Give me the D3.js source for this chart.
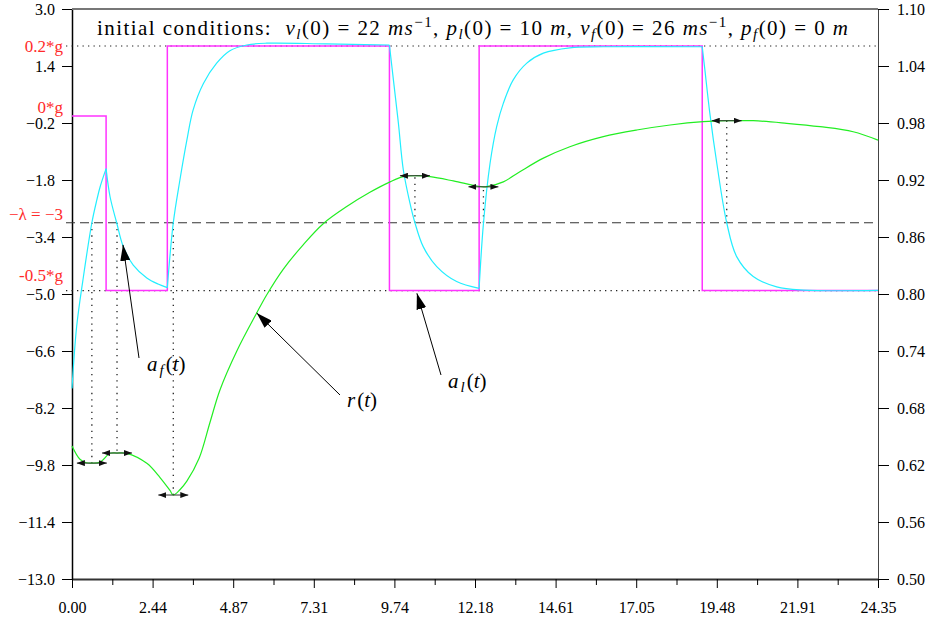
<!DOCTYPE html>
<html><head><meta charset="utf-8">
<script src="https://cdn.jsdelivr.net/npm/d3@7"></script>
<style>body{margin:0;background:#fff}</style></head>
<body><svg id="c" width="935" height="624"></svg>
<script>
// ---------------- data ----------------
const xTickValues = [0, 2.435, 4.87, 7.305, 9.74, 12.175, 14.61, 17.045, 19.48, 21.915, 24.35];
const xTickLabels = ["0.00","2.44","4.87","7.31","9.74","12.18","14.61","17.05","19.48","21.91","24.35"];
const yLeftTicks = [3.0, 1.4, -0.2, -1.8, -3.4, -5.0, -6.6, -8.2, -9.8, -11.4, -13.0];
const yRightTicks = [1.10, 1.04, 0.98, 0.92, 0.86, 0.80, 0.74, 0.68, 0.62, 0.56, 0.50];

// leader acceleration a_l(t): piecewise constant
const leaderSwitchT = [0, 1.03, 2.88, 9.59, 12.30, 19.04, 24.35];
const leaderAccel   = [0, -4.905, 1.962, -4.905, 1.962, -4.905];

// follower acceleration a_f(t)
const followerT = [0.00,0.14,0.33,0.60,0.75,0.85,1.03,
  1.15,1.35,1.55,1.85,2.26,2.60,2.88,
  3.06,3.26,3.47,3.66,3.97,4.37,4.77,5.28,5.88,7.69,9.59,
  9.71,9.86,10.01,10.21,10.36,10.61,11.02,11.62,12.30,
  12.43,12.63,12.83,13.03,13.33,13.74,14.24,15.04,16.05,19.04,
  19.12,19.27,19.48,19.78,20.08,20.58,21.29,22.09,24.35];
const followerA = [-7.65,-5.92,-4.61,-3.00,-2.36,-1.99,-1.48,
  -2.27,-3.00,-3.67,-4.19,-4.55,-4.72,-4.82,
  -3.00,-1.80,-0.68,0.17,0.91,1.48,1.83,1.99,2.04,2.02,1.99,
  1.01,-0.20,-1.52,-2.45,-3.00,-3.67,-4.23,-4.65,-4.84,
  -3.02,-1.33,-0.30,0.35,1.01,1.48,1.76,1.91,1.94,1.94,
  1.29,0.07,-1.33,-3.00,-3.95,-4.51,-4.80,-4.89,-4.90];

// ratio r(t) (right axis)
const rangeT = [0.00,0.24,0.43,0.60,0.85,1.15,1.36,1.65,2.26,2.66,2.96,3.06,3.26,3.47,3.84,4.17,4.47,4.98,5.58,5.88,6.38,6.99,7.59,8.30,9.00,9.61,10.01,10.36,10.82,11.52,12.23,12.43,12.53,13.03,13.53,14.24,15.04,16.05,17.06,18.07,19.07,19.78,20.58,21.59,22.60,23.60,24.35];
const rangeR = [0.640,0.626,0.6224,0.622,0.623,0.6323,0.6326,0.6323,0.6218,0.6068,0.5932,0.5884,0.594,0.603,0.627,0.665,0.699,0.740,0.780,0.799,0.826,0.852,0.874,0.892,0.907,0.918,0.9235,0.9245,0.9235,0.919,0.9137,0.9128,0.913,0.918,0.9287,0.943,0.955,0.9656,0.9726,0.9779,0.9814,0.9824,0.9824,0.9797,0.9761,0.9708,0.962];

// instants where a_f crosses -lambda, and r at those instants
const extremaT = [0.60, 1.36, 3.06, 10.36, 12.43, 19.78];
const extremaR = [0.622, 0.6326, 0.5884, 0.9245, 0.9128, 0.9824];

const lambdaLevel = -3;
const refLevels = [1.962, 0, -4.905];
const refLabels = ["0.2*g", "0*g", "-0.5*g"];

// ---------------- scales ----------------
const svg = d3.select("#c");
const X0 = 72, X1 = 878, Y0 = 9, Y1 = 579;
const x = d3.scaleLinear([0, 24.35], [X0, X1]);
const yL = d3.scaleLinear([-13, 3], [Y1, Y0]);
const yR = d3.scaleLinear([0.5, 1.1], [Y1, Y0]);
const FONT = '"Liberation Serif", "Times New Roman", serif';
const font = sel => sel.style("font-family", FONT);

const defs = svg.append("defs");
defs.append("marker").attr("id","big").attr("viewBox","0 0 16 10")
  .attr("refX",16).attr("refY",5).attr("markerWidth",16).attr("markerHeight",10)
  .attr("markerUnits","userSpaceOnUse").attr("orient","auto")
  .append("path").attr("d","M0,0L16,5L0,10Z").attr("fill","#000");
defs.append("marker").attr("id","small").attr("viewBox","0 0 8 6")
  .attr("refX",8).attr("refY",3).attr("markerWidth",8).attr("markerHeight",6)
  .attr("markerUnits","userSpaceOnUse").attr("orient","auto-start-reverse")
  .append("path").attr("d","M0,0L8,3L0,6Z").attr("fill","#111");

// ---------------- axes ----------------
const gx = svg.append("g").attr("transform",`translate(0,${Y1})`)
  .call(d3.axisBottom(x).tickValues(xTickValues).tickFormat((d,i)=>xTickLabels[i]).tickSize(9).tickSizeOuter(0));
const minor = d3.pairs(xTickValues).map(([a,b])=>(a+b)/2);
svg.append("g").attr("transform",`translate(0,${Y1})`)
  .call(d3.axisBottom(x).tickValues(minor).tickFormat("").tickSize(6).tickSizeOuter(0))
  .call(g=>g.select(".domain").remove());
gx.select(".domain").attr("stroke","#333").attr("stroke-width",2);
gx.selectAll("text").call(font).attr("font-size",16).attr("fill","#000").attr("dy","1.35em");

const gl = svg.append("g").attr("transform",`translate(${X0},0)`)
  .call(d3.axisLeft(yL).tickValues(yLeftTicks).tickFormat(d3.format(".1f")).tickSize(10).tickSizeOuter(0));
gl.select(".domain").attr("stroke","#000").attr("stroke-width",1.5);
gl.selectAll("text").call(font).attr("font-size",16).attr("x",-17).attr("fill","#000");

const gr = svg.append("g").attr("transform",`translate(${X1},0)`)
  .call(d3.axisRight(yR).tickValues(yRightTicks).tickFormat(d3.format(".2f")).tickSize(11).tickSizeOuter(0));
gr.select(".domain").attr("stroke","#444");
gr.selectAll("text").call(font).attr("font-size",16).attr("x",19).attr("fill","#000");

// top frame
svg.append("line").attr("x1",X0).attr("x2",X1).attr("y1",Y0).attr("y2",Y0)
  .attr("stroke","#777").attr("stroke-width",2);

// ---------------- reference lines ----------------
svg.append("line").attr("x1",X0-6).attr("x2",X1).attr("y1",yL(lambdaLevel)).attr("y2",yL(lambdaLevel))
  .attr("stroke","#333").attr("stroke-dasharray","9,5").attr("stroke-width",1);
[refLevels[0], refLevels[2]].forEach(v=>{
  svg.append("line").attr("x1",X0-6).attr("x2",X1).attr("y1",yL(v)).attr("y2",yL(v))
    .attr("stroke","#222").attr("stroke-dasharray","1.3,4.2").attr("stroke-width",1.2);
});
extremaT.forEach((t,i)=>{
  svg.append("line").attr("x1",x(t)).attr("x2",x(t)).attr("y1",yL(lambdaLevel)).attr("y2",yR(extremaR[i]))
    .attr("stroke","#222").attr("stroke-dasharray","1.3,5").attr("stroke-width",1.3);
});

// red labels
const redOffsets = [6, -3, -10];
refLevels.forEach((v,i)=>{
  svg.append("text").attr("x",63).attr("y",yL(v)+redOffsets[i]).attr("text-anchor","end")
    .call(font).attr("font-size",17).attr("fill","#ff2a2a").text(refLabels[i]);
});
svg.append("text").attr("x",63).attr("y",yL(lambdaLevel)-3).attr("text-anchor","end")
  .call(font).attr("font-size",17).attr("fill","#ff2a2a").text("−λ = −3");

// ---------------- series ----------------
const leaderPts = leaderAccel.map((a,i)=>[leaderSwitchT[i],a]);
leaderPts.push([leaderSwitchT[leaderSwitchT.length-1], leaderAccel[leaderAccel.length-1]]);
svg.append("path").datum(leaderPts)
  .attr("d", d3.line().x(d=>x(d[0])).y(d=>yL(d[1])).curve(d3.curveStepAfter))
  .attr("fill","none").attr("stroke","#ff33ff").attr("stroke-width",1.5);

const fPts = followerT.map((t,i)=>[t, followerA[i]]);
const fLine = d3.line().x(d=>x(d[0])).y(d=>yL(d[1])).curve(d3.curveCatmullRom.alpha(0.5));
for (let k=0;k<leaderSwitchT.length-1;k++){
  const seg = fPts.filter(p=>p[0]>=leaderSwitchT[k]-1e-9 && p[0]<=leaderSwitchT[k+1]+1e-9);
  svg.append("path").datum(seg).attr("d",fLine)
    .attr("fill","none").attr("stroke","#22eeff").attr("stroke-width",1.2);
}

const rPts = rangeT.map((t,i)=>[t, rangeR[i]]);
svg.append("path").datum(rPts)
  .attr("d", d3.line().x(d=>x(d[0])).y(d=>yR(d[1])).curve(d3.curveCatmullRom.alpha(0.5)))
  .attr("fill","none").attr("stroke","#22ee22").attr("stroke-width",1.2);

extremaT.forEach((t,i)=>{
  svg.append("line").attr("x1",x(t)-15).attr("x2",x(t)+15).attr("y1",yR(extremaR[i])).attr("y2",yR(extremaR[i]))
    .attr("stroke","#333").attr("stroke-width",1)
    .attr("marker-start","url(#small)").attr("marker-end","url(#small)");
});

// ---------------- annotations ----------------
const annotations = [
  {base:"a", sub:"f", lx:147, ly:371, tail:[139,358], tip:[1.54,-3.62], axis:"L"},
  {base:"r", sub:"",  lx:347, ly:407, tail:[340,395], tip:[5.58,0.780], axis:"R"},
  {base:"a", sub:"l", lx:448, ly:388, tail:[441,375], tip:[10.42,-4.98], axis:"L"}
];
annotations.forEach(a=>{
  const ty = a.axis==="L" ? yL(a.tip[1]) : yR(a.tip[1]);
  svg.append("line").attr("x1",a.tail[0]).attr("y1",a.tail[1]).attr("x2",x(a.tip[0])).attr("y2",ty)
    .attr("stroke","#000").attr("stroke-width",1).attr("marker-end","url(#big)");
  const t = svg.append("text").attr("x",a.lx).attr("y",a.ly).call(font).attr("font-size",21);
  t.append("tspan").attr("font-style","italic").text(a.base);
  if (a.sub){
    t.append("tspan").attr("font-style","italic").attr("font-size",15).attr("dy",4).attr("dx",2).text(a.sub);
    t.append("tspan").attr("dy",-4).attr("dx",2).text("(");
  } else t.append("tspan").attr("dx",2).text("(");
  t.append("tspan").attr("font-style","italic").text("t");
  t.append("tspan").text(")");
});

// ---------------- title ----------------
const titleParts = [
  ["initial conditions:  ","r"],
  ["v","i"],["l","sub"],["(0) = 22 ","r"],["ms","i"],["−1","sup"],[", ","r"],
  ["p","i"],["l","sub"],["(0) = 10 ","r"],["m","i"],[", ","r"],
  ["v","i"],["f","sub"],["(0) = 26 ","r"],["ms","i"],["−1","sup"],[", ","r"],
  ["p","i"],["f","sub"],["(0) = 0 ","r"],["m","i"]
];
const title = svg.append("text").attr("x",97).attr("y",35).call(font)
  .attr("font-size",21).attr("textLength",751).attr("lengthAdjust","spacing")
  .style("white-space","pre");
let shift = 0;
titleParts.forEach(([s,kind])=>{
  const ts = title.append("tspan").text(s);
  let target = 0;
  if (kind==="i") ts.attr("font-style","italic");
  if (kind==="sub"){ ts.attr("font-style","italic").attr("font-size",15); target = 4; }
  if (kind==="sup"){ ts.attr("font-size",15); target = -8; }
  if (target !== shift){ ts.attr("dy", target - shift); shift = target; }
});
</script>
</body></html>
